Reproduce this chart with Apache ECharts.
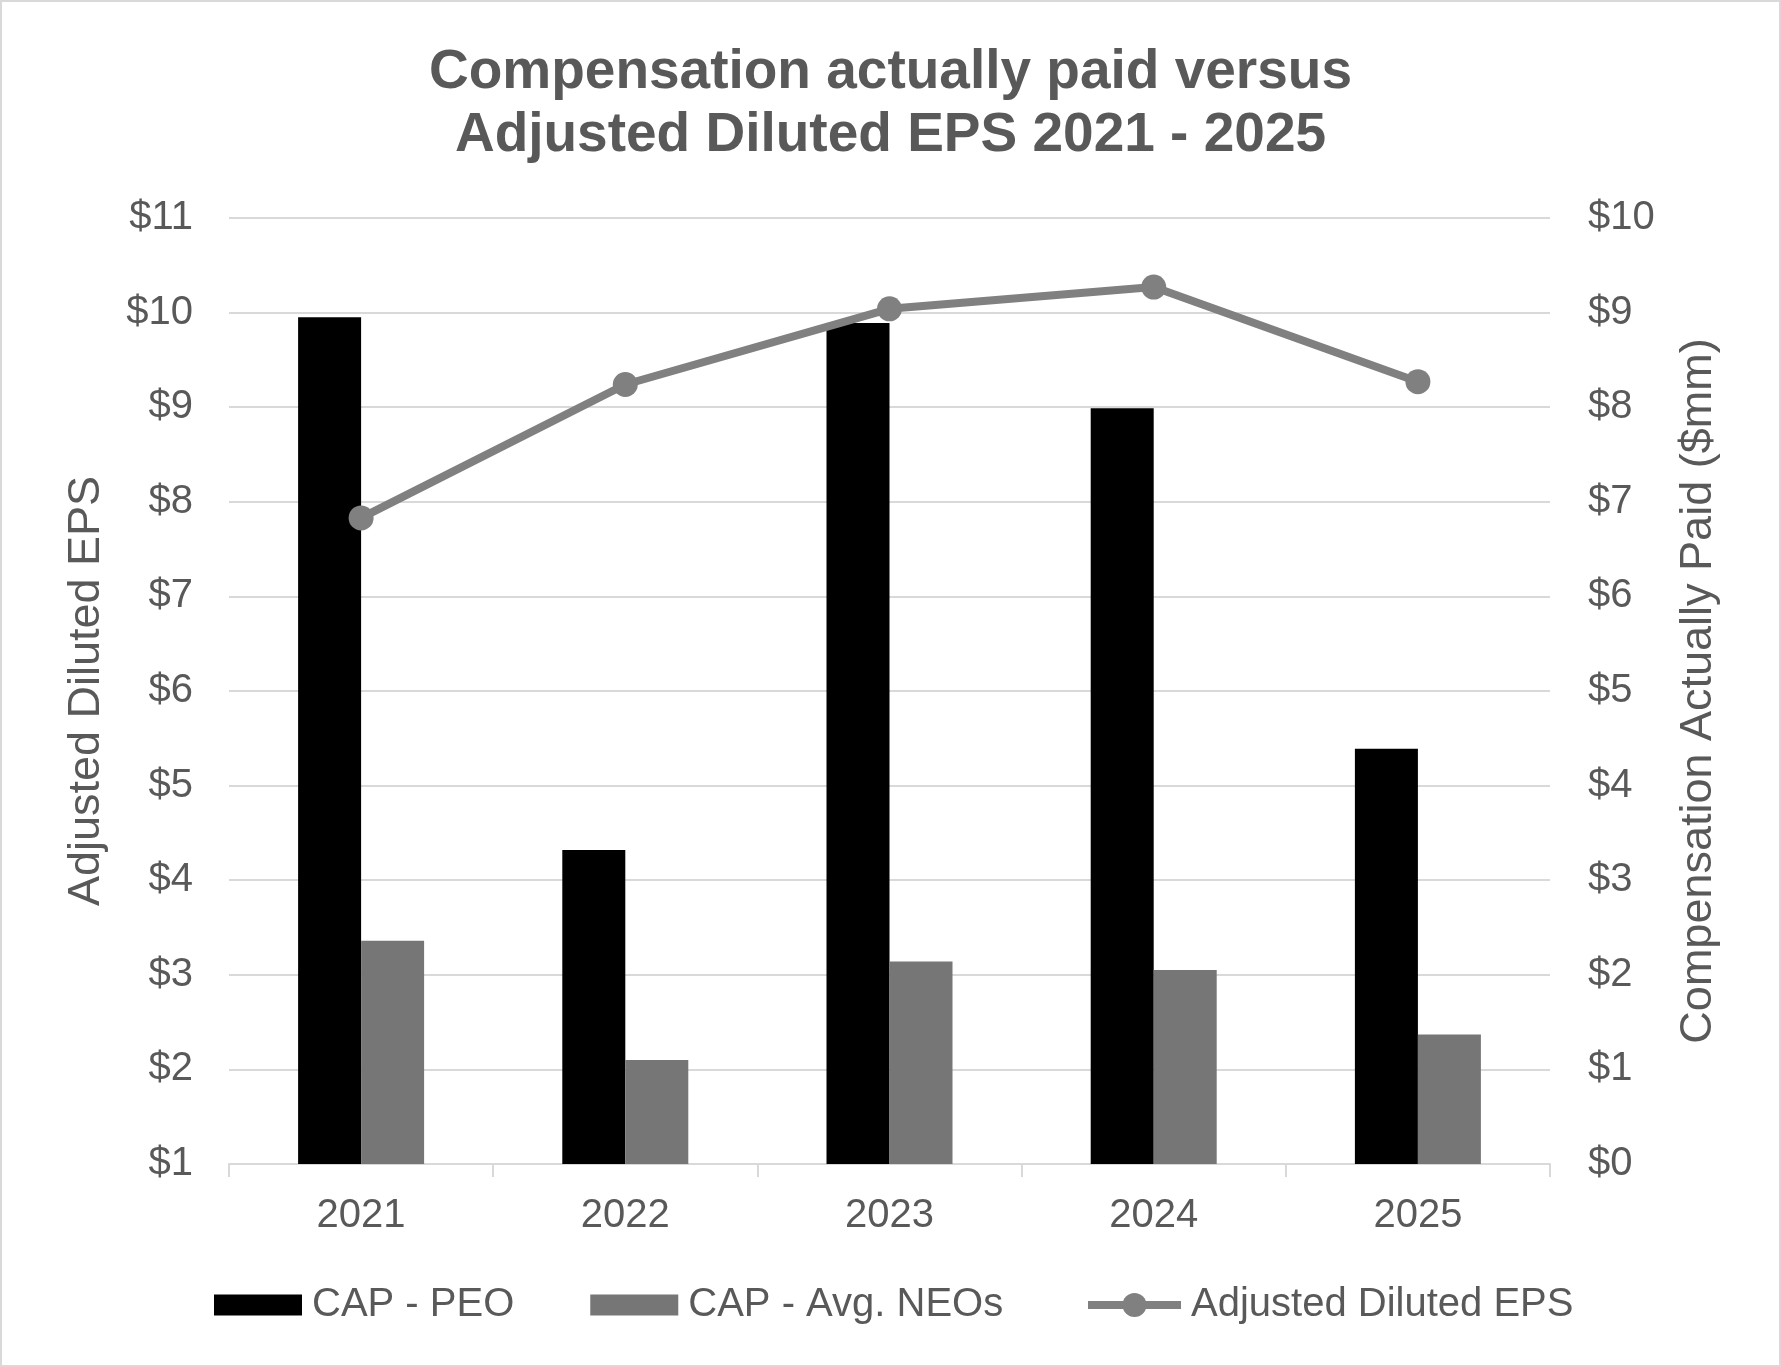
<!DOCTYPE html>
<html>
<head>
<meta charset="utf-8">
<script src="https://cdn.jsdelivr.net/npm/echarts@6/dist/echarts.min.js"></script>
<style>
html,body{margin:0;padding:0;background:#fff;}
#chart{width:1781px;height:1367px;}
</style>
</head>
<body>
<div id="chart"></div>
<script>
const categories = ['2021', '2022', '2023', '2024', '2025'];
const capPeo = [8.95, 3.32, 8.89, 7.99, 4.39];
const capNeo = [2.36, 1.10, 2.14, 2.05, 1.37];
const adjEps = [7.83, 9.24, 10.04, 10.27, 9.27];
const leftTicks = { min: 1, max: 11, interval: 1 };
const rightTicks = { min: 0, max: 10, interval: 1 };
const titleLines = ['Compensation actually paid versus', 'Adjusted Diluted EPS 2021 - 2025'];

const FONT = '"Liberation Sans", Arial, sans-serif';
const TXT = '#595959';
const titleStyle = { fontFamily: FONT, fontSize: 55, fontWeight: 'bold', color: TXT };
const legendText = { fontFamily: FONT, fontSize: 40, color: TXT, padding: [0, 0, 0, 5] };

const chart = echarts.init(document.getElementById('chart'));
chart.setOption({
  animation: false,
  backgroundColor: '#ffffff',
  textStyle: { fontFamily: FONT },
  graphic: [{
    type: 'rect',
    shape: { x: 1, y: 1, width: 1779, height: 1365 },
    style: { fill: 'none', stroke: '#d9d9d9', lineWidth: 2 },
    silent: true, z: -1
  }],
  title: [
    { text: titleLines[0], left: 'center', top: 40, textStyle: titleStyle },
    { text: titleLines[1], left: 'center', top: 103, textStyle: titleStyle }
  ],
  legend: [{
    left: 209,
    top: 1280,
    itemWidth: 88,
    itemHeight: 21,
    itemGap: 76,
    textStyle: legendText,
    data: [
      { name: 'CAP - PEO', icon: 'rect' },
      { name: 'CAP - Avg. NEOs', icon: 'rect' }
    ]
  }, {
    left: 1079,
    top: 1280,
    itemWidth: 93,
    itemHeight: 30,
    textStyle: legendText,
    data: [
      { name: 'Adjusted Diluted EPS', lineStyle: { width: 8, color: '#808080' } }
    ]
  }],
  grid: { left: 229, right: 231, top: 218, bottom: 203, containLabel: false },
  xAxis: {
    type: 'category',
    data: categories,
    boundaryGap: true,
    axisLine: { lineStyle: { color: '#d9d9d9', width: 2 } },
    axisTick: { show: true, length: 13, lineStyle: { color: '#d9d9d9', width: 2 } },
    axisLabel: { fontFamily: FONT, fontSize: 40, color: TXT, margin: 32 }
  },
  yAxis: [{
    type: 'value',
    min: leftTicks.min, max: leftTicks.max, interval: leftTicks.interval,
    position: 'left',
    name: 'Adjusted Diluted EPS',
    nameLocation: 'middle',
    nameRotate: 90,
    nameGap: 120,
    nameTextStyle: { fontFamily: FONT, fontSize: 45, color: TXT },
    axisLine: { show: false },
    axisTick: { show: false },
    axisLabel: { fontFamily: FONT, fontSize: 40, color: TXT, margin: 36, formatter: v => '$' + v },
    splitLine: { show: true, lineStyle: { color: '#d9d9d9', width: 2 } }
  }, {
    type: 'value',
    min: rightTicks.min, max: rightTicks.max, interval: rightTicks.interval,
    position: 'right',
    name: 'Compensation Actually Paid ($mm)',
    nameLocation: 'middle',
    nameRotate: 90,
    nameGap: 126,
    nameTextStyle: { fontFamily: FONT, fontSize: 45, color: TXT },
    axisLine: { show: false },
    axisTick: { show: false },
    axisLabel: { fontFamily: FONT, fontSize: 40, color: TXT, margin: 38, formatter: v => '$' + v },
    splitLine: { show: false }
  }],
  series: [{
    name: 'CAP - PEO',
    type: 'bar',
    yAxisIndex: 1,
    data: capPeo,
    barWidth: 63,
    barGap: '0%',
    itemStyle: { color: '#000000' }
  }, {
    name: 'CAP - Avg. NEOs',
    type: 'bar',
    yAxisIndex: 1,
    data: capNeo,
    barWidth: 63,
    barGap: '0%',
    itemStyle: { color: '#767676' }
  }, {
    name: 'Adjusted Diluted EPS',
    type: 'line',
    yAxisIndex: 0,
    data: adjEps,
    symbol: 'circle',
    symbolSize: 25,
    lineStyle: { color: '#808080', width: 8 },
    itemStyle: { color: '#808080' },
    z: 5
  }]
});
</script>
</body>
</html>
